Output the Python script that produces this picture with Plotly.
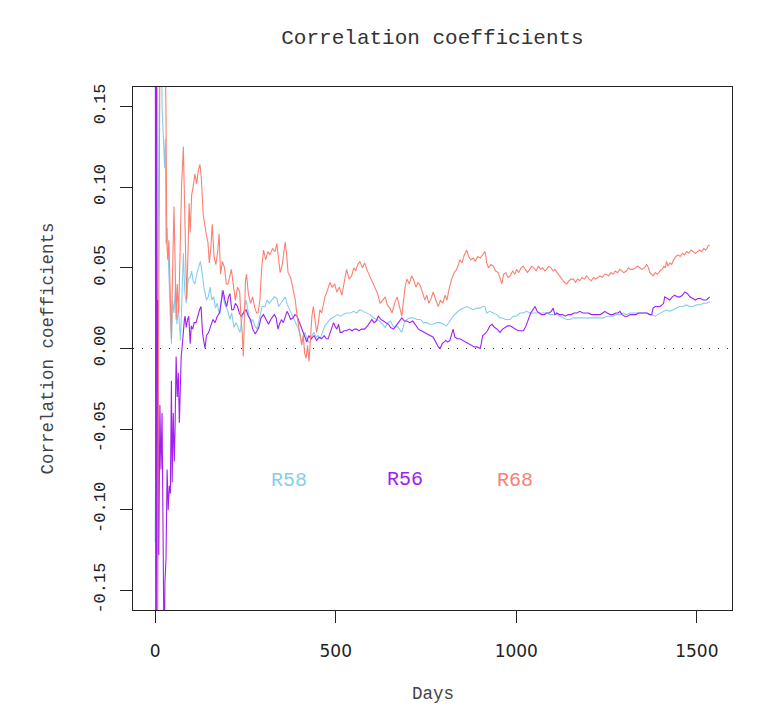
import plotly.graph_objects as go

# ---------------- data ----------------
days68 = [0, 3, 7, 11, 15, 22, 27, 30, 32, 35,
          38, 41, 45, 48, 52, 55, 58, 61, 65, 69,
          73, 78, 81, 84, 87, 91, 94, 97, 101, 105,
          110, 115, 119, 124, 128, 133, 138, 142, 146, 150,
          154, 158, 163, 168, 173, 177, 181, 186, 192, 197,
          202, 207, 211, 216, 222, 228, 234, 238, 241, 244,
          247, 250, 253, 258, 264, 270, 276, 281, 285, 290,
          295, 300, 306, 312, 318, 325, 332, 337, 342, 346,
          352, 356, 360, 364, 368, 375, 383, 388, 393, 397,
          401, 406, 410, 414, 418, 422, 426, 430, 434, 438,
          443, 447, 452, 456, 461, 466, 470, 477, 484, 490,
          497, 503, 510, 517, 524, 530, 537, 544, 550, 555,
          561, 567, 574, 580, 586, 592, 598, 604, 609, 616,
          623, 630, 637, 643, 650, 656, 663, 670, 676, 683,
          688, 692, 697, 704, 710, 715, 722, 728, 734, 741,
          747, 752, 758, 764, 770, 777, 784, 790, 796, 803,
          808, 814, 821, 828, 835, 840, 844, 850, 856, 863,
          868, 874, 881, 887, 893, 900, 906, 913, 916, 918,
          923, 930, 936, 943, 950, 955, 960, 965, 971, 977,
          983, 990, 996, 1001, 1007, 1013, 1019, 1025, 1031, 1037,
          1043, 1049, 1055, 1061, 1067, 1073, 1079, 1084, 1090, 1096,
          1102, 1107, 1113, 1119, 1126, 1133, 1140, 1146, 1152, 1158,
          1164, 1170, 1176, 1182, 1189, 1195, 1202, 1208, 1214, 1220,
          1226, 1232, 1238, 1244, 1250, 1256, 1262, 1268, 1274, 1280,
          1287, 1292, 1298, 1305, 1311, 1317, 1323, 1330, 1336, 1342,
          1348, 1355, 1361, 1366, 1370, 1375, 1379, 1385, 1391, 1398,
          1404, 1409, 1413, 1416, 1420, 1425, 1430, 1436, 1442, 1448,
          1454, 1460, 1466, 1472, 1478, 1484, 1490, 1496, 1502, 1508,
          1514, 1519, 1524, 1528, 1532, 1536]
r68 = [-0.22, -0.30, -0.12, 0.06, 0.28, 0.25, 0.20, 0.145, 0.066, 0.055,
       0.067, 0.040, 0.006, 0.045, 0.088, 0.055, 0.018, 0.040, 0.022, 0.060,
       0.100, 0.125, 0.090, 0.050, 0.030, 0.060, 0.090, 0.072, 0.095, 0.100,
       0.108, 0.102, 0.110, 0.114, 0.105, 0.083, 0.075, 0.070, 0.066, 0.053,
       0.062, 0.077, 0.057, 0.052, 0.060, 0.071, 0.046, 0.054, 0.050, 0.040,
       0.040, 0.046, 0.049, 0.040, 0.030, 0.038, 0.035, 0.017, 0.010, -0.005,
       0.020, 0.042, 0.046, 0.034, 0.028, 0.032, 0.025, 0.022, 0.022, 0.030,
       0.050, 0.061, 0.055, 0.060, 0.058, 0.062, 0.060, 0.065, 0.055, 0.047,
       0.052, 0.060, 0.066, 0.058, 0.047, 0.044, 0.036, 0.030, 0.020, 0.015,
       0.010, 0.002, 0.008, -0.003, -0.006, 0.002, -0.008, 0.010, 0.020, 0.026,
       0.018, 0.010, 0.016, 0.024, 0.022, 0.028, 0.032, 0.036, 0.041, 0.038,
       0.040, 0.035, 0.038, 0.033, 0.042, 0.049, 0.043, 0.045, 0.050, 0.048,
       0.052, 0.054, 0.050, 0.053, 0.049, 0.046, 0.044, 0.041, 0.038, 0.034,
       0.028, 0.030, 0.032, 0.027, 0.025, 0.022, 0.028, 0.032, 0.026, 0.020,
       0.030, 0.038, 0.043, 0.040, 0.045, 0.043, 0.038, 0.041, 0.039, 0.034,
       0.030, 0.033, 0.028, 0.031, 0.035, 0.030, 0.026, 0.030, 0.028, 0.033,
       0.030, 0.037, 0.043, 0.047, 0.049, 0.052, 0.055, 0.053, 0.058, 0.061,
       0.057, 0.055, 0.056, 0.054, 0.057, 0.056, 0.058, 0.060, 0.057, 0.053,
       0.050, 0.052, 0.051, 0.048, 0.047, 0.043, 0.040, 0.046, 0.047, 0.044,
       0.045, 0.048, 0.046, 0.049, 0.047, 0.050, 0.051, 0.049, 0.047, 0.049,
       0.051, 0.050, 0.048, 0.051, 0.049, 0.050, 0.048, 0.049, 0.051, 0.050,
       0.048, 0.049, 0.047, 0.045, 0.043, 0.041, 0.040, 0.042, 0.043, 0.043,
       0.041, 0.043, 0.042, 0.044, 0.043, 0.045, 0.043, 0.042, 0.044, 0.043,
       0.044, 0.045, 0.044, 0.046, 0.046, 0.045, 0.047, 0.046, 0.048, 0.047,
       0.049, 0.048, 0.047, 0.048, 0.050, 0.049, 0.049, 0.050, 0.051, 0.050,
       0.049, 0.050, 0.052, 0.050, 0.047, 0.046, 0.045, 0.047, 0.046, 0.048,
       0.049, 0.051, 0.050, 0.054, 0.051, 0.053, 0.052, 0.055, 0.057, 0.058,
       0.057, 0.059, 0.058, 0.060, 0.059, 0.061, 0.060, 0.059, 0.060, 0.061,
       0.060, 0.062, 0.061, 0.062, 0.064, 0.064]

days58 = [0, 2, 4, 6, 8, 11, 15, 19, 23, 26,
          28, 30, 33, 36, 39, 42, 45, 48, 52, 56,
          60, 64, 67, 70, 74, 78, 82, 86, 90, 94,
          97, 101, 105, 110, 115, 120, 125, 130, 135, 142,
          147, 152, 157, 162, 167, 172, 177, 180, 185, 190,
          195, 200, 207, 212, 218, 224, 230, 235, 240, 246,
          252, 258, 264, 270, 276, 282, 290, 296, 304, 310,
          316, 322, 330, 337, 342, 348, 354, 360, 366, 372,
          378, 385, 392, 397, 401, 406, 410, 415, 420, 425,
          429, 434, 440, 446, 451, 457, 463, 470, 477, 484,
          491, 498, 505, 512, 521, 530, 540, 550, 558, 567,
          576, 586, 595, 604, 613, 622, 630, 637, 645, 652,
          658, 664, 670, 677, 683, 690, 697, 706, 715, 725,
          734, 743, 752, 761, 770, 779, 789, 798, 807, 816,
          825, 834, 844, 853, 863, 872, 881, 890, 900, 907,
          913, 918, 927, 936, 946, 955, 960, 970, 983, 992,
          1001, 1010, 1019, 1029, 1038, 1047, 1056, 1065, 1075, 1084,
          1093, 1102, 1112, 1121, 1130, 1140, 1149, 1158, 1167, 1176,
          1186, 1195, 1204, 1213, 1223, 1232, 1241, 1250, 1259, 1268,
          1277, 1287, 1296, 1305, 1314, 1323, 1333, 1342, 1352, 1361,
          1370, 1375, 1384, 1393, 1402, 1411, 1416, 1425, 1434, 1444,
          1453, 1462, 1471, 1480, 1490, 1499, 1508, 1518, 1527, 1536]
r58 = [-0.12, -0.04, -0.048, -0.024, 0.06, 0.22, 0.25, 0.15, 0.125, 0.112,
       0.13, 0.065, 0.075, 0.05, 0.04, 0.02, 0.003, 0.03, 0.022, 0.038,
       0.015, 0.025, 0.01, 0.005, 0.03, 0.059, 0.035, 0.028, 0.04, 0.044,
       0.044, 0.048, 0.042, 0.040, 0.046, 0.050, 0.054, 0.047, 0.038, 0.030,
       0.032, 0.038, 0.030, 0.032, 0.025, 0.028, 0.022, 0.022, 0.036, 0.030,
       0.026, 0.024, 0.018, 0.022, 0.013, 0.016, 0.012, 0.010, 0.018, 0.024,
       0.030, 0.022, 0.016, 0.018, 0.014, 0.012, 0.020, 0.026, 0.026, 0.030,
       0.028, 0.030, 0.032, 0.031, 0.026, 0.028, 0.030, 0.032, 0.027, 0.024,
       0.022, 0.018, 0.014, 0.012, 0.008, 0.004, 0.008, 0.010, 0.006, 0.004,
       0.004, 0.008, 0.010, 0.007, 0.008, 0.006, 0.010, 0.014, 0.016, 0.018,
       0.019, 0.020, 0.021, 0.020, 0.021, 0.022, 0.022, 0.023, 0.022, 0.024,
       0.023, 0.022, 0.021, 0.019, 0.018, 0.017, 0.015, 0.013, 0.016, 0.017,
       0.014, 0.013, 0.014, 0.012, 0.010, 0.016, 0.018, 0.019, 0.019, 0.018,
       0.018, 0.016, 0.016, 0.015, 0.015, 0.016, 0.016, 0.015, 0.014, 0.017,
       0.020, 0.022, 0.024, 0.025, 0.026, 0.025, 0.024, 0.025, 0.025, 0.026,
       0.026, 0.022, 0.023, 0.022, 0.021, 0.019, 0.019, 0.018, 0.018, 0.020,
       0.020, 0.022, 0.022, 0.023, 0.022, 0.022, 0.022, 0.022, 0.022, 0.022,
       0.021, 0.021, 0.021, 0.020, 0.019, 0.018, 0.018, 0.019, 0.019, 0.019,
       0.019, 0.019, 0.019, 0.019, 0.019, 0.019, 0.019, 0.020, 0.020, 0.020,
       0.021, 0.021, 0.022, 0.021, 0.022, 0.022, 0.022, 0.022, 0.022, 0.022,
       0.021, 0.021, 0.020, 0.021, 0.022, 0.023, 0.024, 0.023, 0.024, 0.025,
       0.026, 0.026, 0.027, 0.026, 0.026, 0.027, 0.027, 0.028, 0.028, 0.029]

days56 = [0, 2, 4, 6, 8, 10, 13, 16, 19, 22,
          25, 27, 30, 33, 36, 39, 42, 45, 47, 50,
          53, 55, 58, 61, 64, 67, 69, 72, 75, 78,
          81, 83, 86, 90, 93, 97, 100, 104, 108, 113,
          118, 123, 127, 131, 135, 138, 142, 148, 154, 160,
          166, 172, 178, 183, 188, 193, 198, 203, 207, 212,
          217, 222, 228, 233, 238, 244, 252, 258, 264, 270,
          277, 282, 287, 293, 300, 307, 314, 320, 326, 330,
          335, 340, 344, 350, 355, 360, 365, 370, 375, 382,
          387, 393, 398, 404, 410, 415, 420, 425, 432, 440,
          447, 454, 461, 468, 474, 479, 485, 490, 494, 498,
          503, 508, 512, 517, 523, 530, 538, 545, 552, 558,
          564, 572, 580, 588, 595, 600, 606, 612, 618, 625,
          632, 640, 646, 652, 660, 667, 674, 680, 683, 690,
          697, 705, 713, 720, 729, 737, 745, 752, 760, 770,
          777, 784, 789, 795, 800, 805, 810, 816, 820, 825,
          830, 837, 844, 852, 860, 868, 877, 884, 891, 900,
          903, 907, 913, 920, 927, 933, 940, 947, 955, 962,
          969, 976, 983, 990, 998, 1005, 1012, 1020, 1027, 1033,
          1040, 1046, 1052, 1058, 1064, 1070, 1077, 1084, 1091, 1097,
          1102, 1107, 1112, 1120, 1128, 1136, 1144, 1152, 1160, 1168,
          1176, 1184, 1192, 1200, 1208, 1216, 1224, 1232, 1240, 1245,
          1252, 1260, 1268, 1276, 1282, 1287, 1293, 1300, 1308, 1316,
          1323, 1331, 1339, 1347, 1355, 1362, 1370, 1375, 1379, 1385,
          1391, 1398, 1404, 1408, 1411, 1418, 1425, 1432, 1439, 1446,
          1453, 1460, 1467, 1474, 1481, 1489, 1496, 1503, 1510, 1518,
          1523, 1527, 1531, 1536]
r56 = [0.40, -0.40, 0.35, -0.30, 0.03, -0.128, -0.035, -0.075, -0.04, -0.12,
       -0.20, -0.145, -0.13, -0.075, -0.10, -0.085, -0.09, -0.02, -0.083, -0.04,
       -0.07, -0.05, -0.005, -0.03, -0.015, -0.046, -0.03, -0.005, 0.002, 0.012,
       0.018, 0.020, 0.013, 0.018, 0.020, 0.003, 0.014, 0.012, 0.016, 0.016,
       0.021, 0.024, 0.026, 0.010, 0.004, 0.000, 0.008, 0.010, 0.014, 0.018,
       0.016, 0.020, 0.022, 0.028, 0.036, 0.030, 0.026, 0.032, 0.034, 0.024,
       0.024, 0.028, 0.026, 0.022, 0.020, 0.022, 0.024, 0.020, 0.018, 0.012,
       0.009, 0.011, 0.013, 0.019, 0.021, 0.018, 0.015, 0.018, 0.020, 0.021,
       0.019, 0.012, 0.015, 0.018, 0.016, 0.020, 0.023, 0.021, 0.018, 0.019,
       0.021, 0.020, 0.017, 0.013, 0.010, 0.006, 0.004, 0.008, 0.006, 0.008,
       0.005, 0.007, 0.006, 0.008, 0.006, 0.006, 0.010, 0.013, 0.016, 0.014,
       0.012, 0.015, 0.010, 0.010, 0.011, 0.011, 0.012, 0.011, 0.012, 0.012,
       0.011, 0.012, 0.012, 0.014, 0.016, 0.018, 0.016, 0.017, 0.020, 0.018,
       0.017, 0.016, 0.015, 0.013, 0.012, 0.014, 0.016, 0.018, 0.019, 0.017,
       0.017, 0.016, 0.017, 0.015, 0.012, 0.011, 0.010, 0.009, 0.008, 0.007,
       0.004, 0.001, 0.000, 0.003, 0.004, 0.005, 0.004, 0.005, 0.008, 0.012,
       0.007, 0.006, 0.006, 0.005, 0.004, 0.003, 0.002, 0.001, 0.001, 0.000,
       0.003, 0.008, 0.009, 0.011, 0.014, 0.015, 0.013, 0.012, 0.010, 0.012,
       0.013, 0.014, 0.014, 0.013, 0.012, 0.011, 0.011, 0.011, 0.014, 0.018,
       0.022, 0.024, 0.026, 0.023, 0.022, 0.021, 0.021, 0.022, 0.022, 0.023,
       0.025, 0.021, 0.022, 0.021, 0.021, 0.020, 0.021, 0.021, 0.022, 0.022,
       0.023, 0.022, 0.022, 0.022, 0.021, 0.021, 0.021, 0.021, 0.022, 0.023,
       0.022, 0.021, 0.021, 0.022, 0.022, 0.023, 0.021, 0.020, 0.020, 0.021,
       0.021, 0.021, 0.022, 0.022, 0.022, 0.022, 0.021, 0.021, 0.025, 0.026,
       0.026, 0.026, 0.027, 0.028, 0.032, 0.031, 0.030, 0.032, 0.033, 0.032,
       0.032, 0.033, 0.035, 0.034, 0.032, 0.031, 0.030, 0.031, 0.031, 0.030,
       0.030, 0.030, 0.031, 0.032]

series_names = ["R58", "R56", "R68"]
series_colors = ["#87CEEB", "#A020F0", "#FA8072"]
label_x = [371, 692, 996]
label_y = [-0.082, -0.081, -0.082]

x_ticks = [0, 500, 1000, 1500]
y_ticks = [-0.15, -0.10, -0.05, 0.00, 0.05, 0.10, 0.15]
y_ticktext = ["-0.15", "-0.10", "-0.05", "0.00", "0.05", "0.10", "0.15"]

# ---------------- figure ----------------
fig = go.Figure()
for name, d, v, c in zip(series_names, [days58, days56, days68], [r58, r56, r68], series_colors):
    fig.add_trace(go.Scatter(x=d, y=v, mode="lines", name=name,
                             line=dict(color=c, width=1.1), hoverinfo="skip",
                             showlegend=False))

mono = "Liberation Mono, Courier New, monospace"
sans = "DejaVu Sans, Liberation Sans, sans-serif"

fig.add_shape(type="line", xref="paper", x0=0, x1=1, yref="y", y0=0, y1=0,
              line=dict(color="#333333", width=1, dash="1px,8px"), layer="below")

for name, lx, ly, c in zip(series_names, label_x, label_y, series_colors):
    fig.add_annotation(x=lx, y=ly, xref="x", yref="y", text=name, showarrow=False,
                       font=dict(family=mono, size=20, color=c))

fig.add_annotation(text="Days", xref="paper", yref="paper", x=0.5, xanchor="center",
                   y=(610 - 694) / 523, yanchor="middle",
                   showarrow=False, font=dict(family=mono, size=17.5, color="#444444"))
fig.add_annotation(text="Correlation coefficients", xref="paper", yref="paper",
                   x=(47 - 133) / 599, xanchor="center", y=0.5, yanchor="middle",
                   textangle=-90, showarrow=False,
                   font=dict(family=mono, size=17.5, color="#444444"))

fig.update_layout(
    width=773, height=706,
    margin=dict(l=133, r=41, t=87, b=96),
    paper_bgcolor="white", plot_bgcolor="white",
    title=dict(text="Correlation coefficients", x=432.5 / 773, xanchor="center",
               y=1 - 37 / 706, yanchor="middle", yref="container",
               font=dict(family=mono, size=21, color="#333333")),
    xaxis=dict(range=[-61.44, 1597.44], tickvals=x_ticks, ticks="outside", ticklen=12,
               tickcolor="#222222", showline=True, linecolor="#222222", linewidth=1,
               mirror=True, showgrid=False, zeroline=False,
               tickfont=dict(family=sans, size=17, color="#222222"),
               ticklabelstandoff=14),
    yaxis=dict(range=[-0.162, 0.162], tickvals=y_ticks, ticktext=y_ticktext,
               tickangle=-90, ticks="outside", ticklen=12,
               tickcolor="#222222", showline=True, linecolor="#222222", linewidth=1,
               mirror=True, showgrid=False, zeroline=False,
               tickfont=dict(family=mono, size=17, color="#222222"),
               ticklabelstandoff=8),
)

fig.write_html("out.html")
